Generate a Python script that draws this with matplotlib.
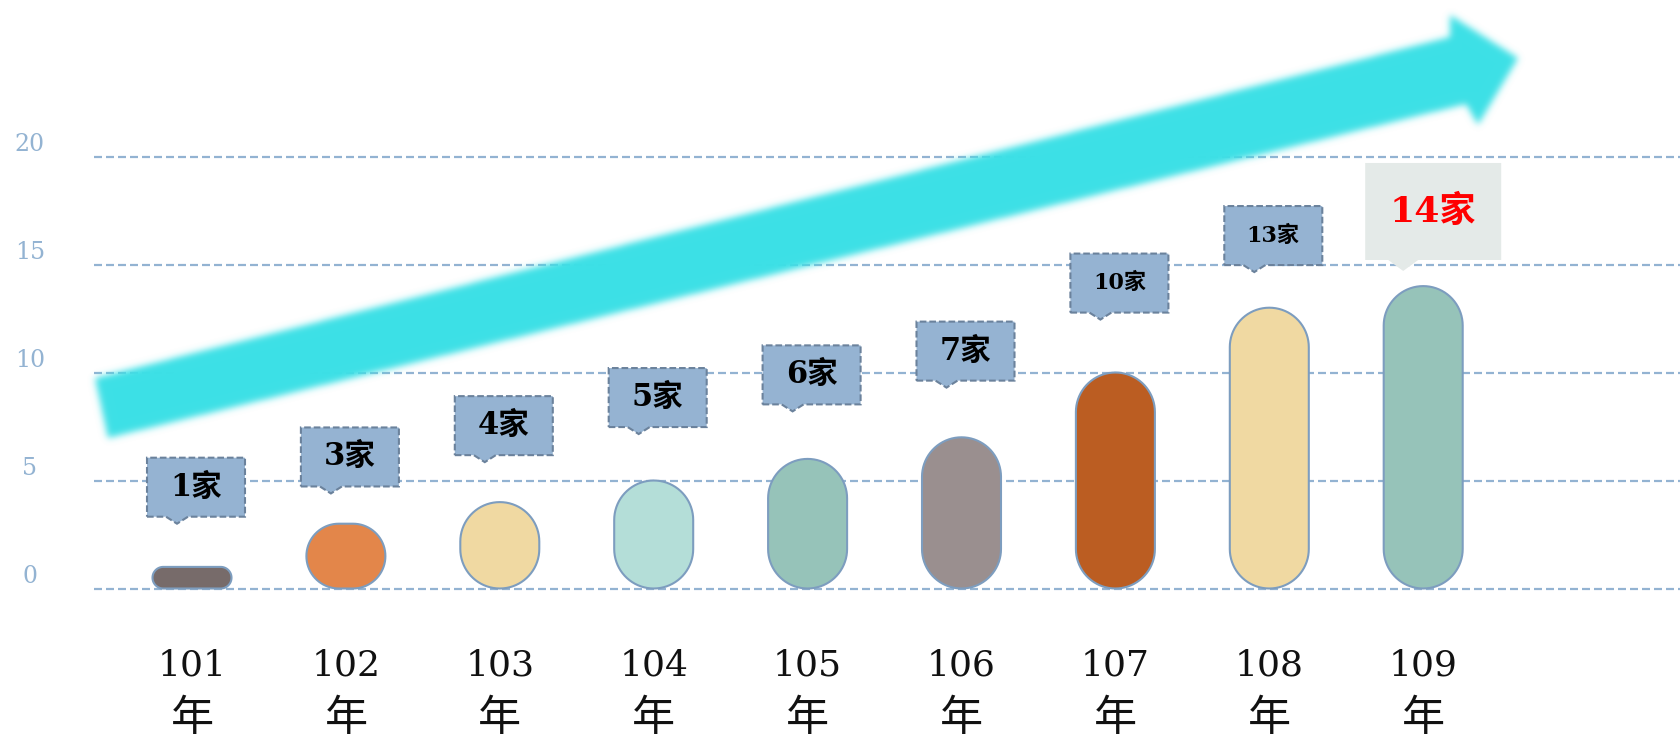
import matplotlib
matplotlib.use('Agg')
import matplotlib.pyplot as plt
from matplotlib.patches import Polygon
from matplotlib.path import Path
from matplotlib.transforms import IdentityTransform
import numpy as np

W, H = 1681, 741

years = ['101', '102', '103', '104', '105', '106', '107', '108', '109']
counts = [1, 3, 4, 5, 6, 7, 10, 13, 14]
yticks = [0, 5, 10, 15, 20]

bar_colors = ['#776b6a', '#e3864a', '#f0d9a2', '#b4ded8', '#96c3b9',
              '#9a8f8f', '#bb5d22', '#f0d9a2', '#96c3b9']
# how far above each bar the callout tip sits (in data units)
tag_lift = [2.0, 1.4, 1.85, 2.15, 2.2, 2.3, 2.45, 1.65, 0.7]
tag_size = [22, 22, 22, 22, 22, 22, 16, 16, 26]

# pixel anchors of the layout
x0_px, step_px = 192, 153.9
zero_px, unit_px = 588.5, 21.6

fig = plt.figure(figsize=(W / 100, H / 100), dpi=100)
ax = fig.add_axes([0, 0, 1, 1])
xlim = (-x0_px / step_px, (W - x0_px) / step_px)
ylim = ((zero_px - H) / unit_px, zero_px / unit_px)
ax.set_xlim(*xlim)
ax.set_ylim(*ylim)
ax.axis('off')

# dashed grid
grid_c = '#93b3d2'
ax.hlines(yticks, (94 - x0_px) / step_px, xlim[1], colors=grid_c,
          linestyles=(0, (3.6, 1.8)), lw=1.6, zorder=1)
for v in yticks:
    ax.text((30 - x0_px) / step_px, v + 0.55, str(v), family='DejaVu Serif',
            size=17, color=grid_c, ha='center', va='center')

# big blurred arrow, rasterised in pixel coords (top-left origin) then blurred
arrow_pts = [(95, 378), (1450, 37), (1450, 15), (1518, 58),
             (1478, 125), (1466, 104), (108, 438)]
gx, gy = np.meshgrid(np.arange(W) + 0.5, np.arange(H) + 0.5)
mask = Path(arrow_pts).contains_points(np.column_stack([gx.ravel(), gy.ravel()]))
mask = mask.reshape(H, W).astype(float)
sig = 3.5
k = np.arange(-12, 13)
kern = np.exp(-k ** 2 / (2 * sig ** 2))
kern /= kern.sum()
mask = np.apply_along_axis(lambda r: np.convolve(r, kern, mode='same'), 1, mask)
mask = np.apply_along_axis(lambda c: np.convolve(c, kern, mode='same'), 0, mask)
rgba = np.zeros((H, W, 4))
rgba[..., 0], rgba[..., 1], rgba[..., 2] = 60 / 255, 224 / 255, 230 / 255
rgba[..., 3] = mask
ax.imshow(rgba, extent=(xlim[0], xlim[1], ylim[0], ylim[1]), origin='upper',
          aspect='auto', interpolation='none', zorder=2)
ax.set_xlim(*xlim)
ax.set_ylim(*ylim)

# pill shaped bars
sx = ax.transData.transform((1, 0))[0] - ax.transData.transform((0, 0))[0]
sy = ax.transData.transform((0, 1))[1] - ax.transData.transform((0, 0))[1]
bar_w = 79 / sx


def pill(xc, h, color):
    w_px, h_px = bar_w * sx, h * sy
    r = min(w_px, h_px) / 2
    pts = []
    for cx, cy, a0 in [(w_px / 2 - r, h_px - r, 0), (-w_px / 2 + r, h_px - r, 90),
                       (-w_px / 2 + r, r, 180), (w_px / 2 - r, r, 270)]:
        t = np.radians(np.linspace(a0, a0 + 90, 20))
        pts += list(zip(cx + r * np.cos(t), cy + r * np.sin(t)))
    pts = [(xc + a / sx, b / sy) for a, b in pts]
    ax.add_patch(Polygon(pts, closed=True, fc=color, ec='#7d9dbf', lw=1.5, zorder=3))


for i, v in enumerate(counts):
    pill(i, v, bar_colors[i])


def callout(tx, ty, bw, bh, off, depth, hw, fc, ec, text, size, color):
    left = tx - off
    bottom = ty + depth
    pts = [(left, bottom), (tx - hw, bottom), (tx, ty), (tx + hw, bottom),
           (left + bw, bottom), (left + bw, bottom + bh), (left, bottom + bh)]
    if ec is None:
        ax.add_patch(Polygon(pts, closed=True, fc=fc, lw=0,
                             transform=IdentityTransform(), zorder=4))
    else:
        ax.add_patch(Polygon(pts, closed=True, fc=fc, ec=ec, lw=1.5,
                             linestyle=(0, (3.2, 1.4)),
                             transform=IdentityTransform(), zorder=4))
    ax.text(left + bw / 2, bottom + bh / 2, text, transform=IdentityTransform(),
            family=['DejaVu Serif', 'Noto Sans CJK TC'], weight='bold',
            size=size, color=color, ha='center', va='center', zorder=5)


last = len(counts) - 1
for i, v in enumerate(counts):
    bx, by = ax.transData.transform((i, v + tag_lift[i]))
    label = f'{v}家'
    if i == last:
        callout(bx - 20, by, 136, 97, 38, 11, 15, '#e4eae8', None,
                label, tag_size[i], '#ff0000')
    else:
        callout(bx - 15, by, 98, 59, 30, 7, 11, '#95b3d2', '#6b829c',
                label, tag_size[i], '#000000')

# x labels
for i, yr in enumerate(years):
    ax.text(i, (zero_px - 665) / unit_px, yr, family='DejaVu Serif', size=26,
            color='#111111', ha='center', va='center')
    ax.text(i, (zero_px - 719) / unit_px, '年', family='Noto Sans CJK TC', size=31,
            color='#111111', ha='center', va='center')

fig.savefig('out.png', dpi=100)
